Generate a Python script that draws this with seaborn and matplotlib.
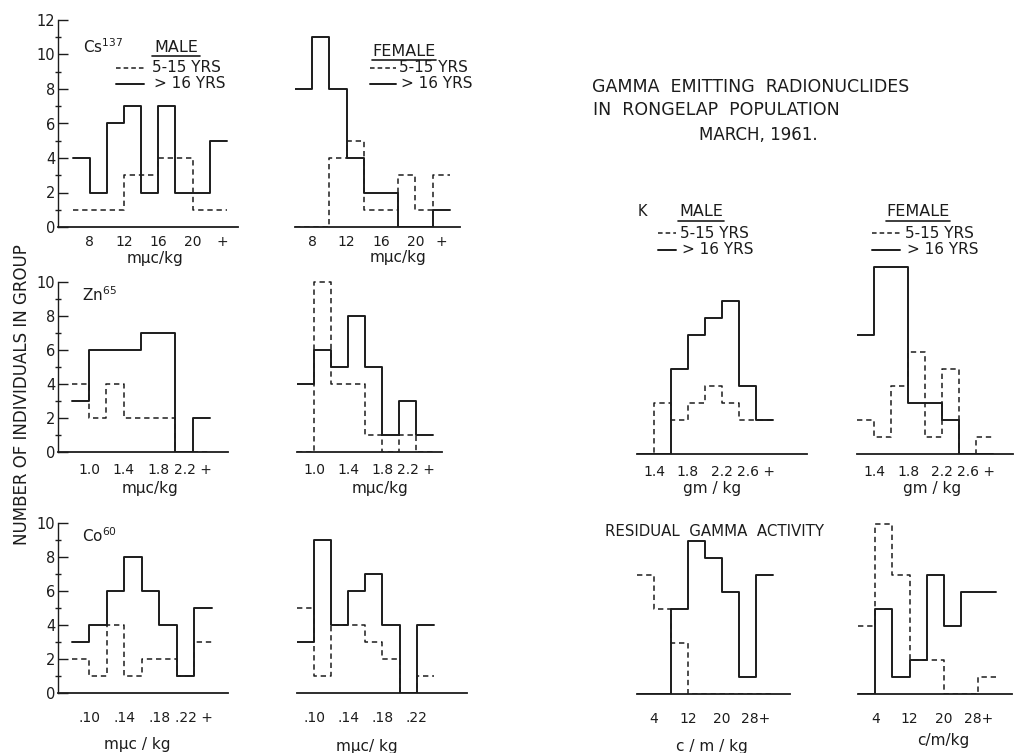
import numpy as np
import seaborn as sns
import matplotlib.pyplot as plt
from matplotlib.lines import Line2D

# bin edges for each measurement
CS_BINS = [6, 8, 10, 12, 14, 16, 18, 20, 22, 24]
ZN_BINS = [0.8, 1.0, 1.2, 1.4, 1.6, 1.8, 2.0, 2.2, 2.4]
CO_BINS = [0.08, 0.10, 0.12, 0.14, 0.16, 0.18, 0.20, 0.22, 0.24]
K_BINS = [1.2, 1.4, 1.6, 1.8, 2.0, 2.2, 2.4, 2.6, 2.8]
RG_BINS = [0, 4, 8, 12, 16, 20, 24, 28, 32]

# number of individuals: "old" = > 16 yrs (solid), "young" = 5-15 yrs (dashed)
cs_male_old = [4, 2, 6, 7, 2, 7, 2, 2, 5]
cs_male_young = [1, 1, 1, 3, 3, 4, 4, 1, 1]
cs_female_old = [8, 11, 8, 4, 2, 2, 0, 0, 1]
cs_female_young = [0, 0, 4, 5, 1, 1, 3, 1, 3]

zn_male_old = [3, 6, 6, 6, 7, 7, 0, 2]
zn_male_young = [4, 2, 4, 2, 2, 2, 0, 0]
zn_female_old = [4, 6, 5, 8, 5, 1, 3, 1]
zn_female_young = [0, 10, 4, 4, 1, 0, 1, 0]

co_male_old = [3, 4, 6, 8, 6, 4, 1, 5]
co_male_young = [2, 1, 4, 1, 2, 2, 1, 3]
co_female_old = [3, 9, 4, 6, 7, 4, 0, 4]
co_female_young = [5, 1, 4, 4, 3, 2, 0, 1]

k_male_old = [0, 0, 5, 7, 8, 9, 4, 2]
k_male_young = [0, 3, 2, 3, 4, 3, 2, 2]
k_female_old = [7, 11, 11, 3, 3, 2, 0, 0]
k_female_young = [2, 1, 4, 6, 1, 5, 0, 1]

rg_male_old = [0, 0, 5, 9, 8, 6, 1, 7]
rg_male_young = [7, 5, 3, 0, 0, 0, 0, 0]
rg_female_old = [0, 5, 1, 2, 7, 4, 6, 6]
rg_female_young = [4, 10, 7, 2, 2, 0, 0, 1]

# tick labels
CS_TICKS, CS_LABELS = [8, 12, 16, 20, 23.5], ['8', '12', '16', '20', '+']
CSF_TICKS, CSF_LABELS = [8, 12, 16, 20, 23], ['8', '12', '16', '20', '+']
ZN_TICKS, ZN_LABELS = [1.0, 1.4, 1.8, 2.2], ['1.0', '1.4', '1.8', '2.2 +']
CO_TICKS, CO_LABELS = [0.10, 0.14, 0.18, 0.22], ['.10', '.14', '.18', '.22 +']
COF_LABELS = ['.10', '.14', '.18', '.22']
K_TICKS, K_LABELS = [1.4, 1.8, 2.2, 2.6], ['1.4', '1.8', '2.2', '2.6 +']
RG_TICKS, RG_LABELS = [4, 12, 20, 28], ['4', '12', '20', '28+']

W, H = 1017, 753
INK = '#1c1c1c'

sns.set_style('white')
plt.rcParams['font.family'] = ['DejaVu Sans']
plt.rcParams['mathtext.default'] = 'regular'

fig = plt.figure(figsize=(W / 100, H / 100), dpi=100)


def panel(x0, x1, y0, unit, ytop):
    # axes placed in pixel coords, y0 = pixel row of the zero line
    return fig.add_axes([x0 / W, 1 - y0 / H, (x1 - x0) / W, unit * ytop / H])


def draw(ax, bins, old, young, ticks, labels, xlim, ytop, pad, yaxis=False, ymax=10):
    mids = [(a + b) / 2 for a, b in zip(bins[:-1], bins[1:])]
    sns.histplot(x=mids, weights=young, bins=list(bins), element='step', fill=False,
                 color=INK, linewidth=1.1, linestyle=(0, (3.5, 2.5)), ax=ax)
    sns.histplot(x=mids, weights=old, bins=list(bins), element='step', fill=False,
                 color=INK, linewidth=1.4, ax=ax)
    ax.set_xlim(*xlim)
    ax.set_ylim(0, ytop)
    ax.set_xlabel('')
    ax.set_ylabel('')
    ax.patch.set_alpha(0)
    ax.set_xticks(ticks, labels)
    ax.set_xticks(bins, minor=True)
    ax.tick_params(axis='x', which='major', length=0, pad=pad, labelsize=10,
                   labelcolor=INK)
    ax.tick_params(axis='x', which='minor', length=4, width=1, direction='inout',
                   color=INK)
    for s in ['top', 'right']:
        ax.spines[s].set_visible(False)
    ax.spines['bottom'].set_color(INK)
    ax.spines['bottom'].set_linewidth(1.3)
    if yaxis:
        ax.set_yticks(range(0, ymax + 1, 2))
        ax.set_yticks(range(1, ymax, 2), minor=True)
        ax.tick_params(axis='y', which='major', direction='in', length=7, width=1,
                       pad=2, labelsize=10.5, color=INK, labelcolor=INK, left=True)
        ax.tick_params(axis='y', which='minor', direction='inout', length=5,
                       width=1, color=INK, left=True)
        ax.spines['left'].set_bounds(0, ymax)
        ax.spines['left'].set_color(INK)
        ax.spines['left'].set_linewidth(1.0)
    else:
        ax.spines['left'].set_visible(False)
        ax.set_yticks([])


def ftext(x, y, s, **kw):
    kw.setdefault('color', INK)
    kw.setdefault('va', 'center')
    fig.text(x / W, 1 - y / H, s, **kw)


def fline(x0, x1, y, **kw):
    fig.add_artist(Line2D([x0 / W, x1 / W], [1 - y / H, 1 - y / H], color=INK, **kw))


U1, U2 = 17.25, 17.0

# row 1: Cs137
ax = panel(58, 238, 227, U1, 12.3)
draw(ax, CS_BINS, cs_male_old, cs_male_young, CS_TICKS, CS_LABELS, (4.3, 25.3), 12.3, 6,
     yaxis=True, ymax=12)
ax = panel(295, 460, 227, U1, 12.3)
draw(ax, CS_BINS, cs_female_old, cs_female_young, CSF_TICKS, CSF_LABELS, (6, 25.2), 12.3, 6)

# row 2: Zn65 and K
ax = panel(58, 228, 452, U2, 11.5)
draw(ax, ZN_BINS, zn_male_old, zn_male_young, ZN_TICKS, ZN_LABELS, (0.64, 2.61), 11.5, 8,
     yaxis=True)
ax = panel(297, 442, 452, U2, 11.5)
draw(ax, ZN_BINS, zn_female_old, zn_female_young, ZN_TICKS, ZN_LABELS, (0.8, 2.5), 11.5, 8)
ax = panel(637, 807, 454, U2, 11.5)
draw(ax, K_BINS, k_male_old, k_male_young, K_TICKS, K_LABELS, (1.2, 3.2), 11.5, 8)
ax = panel(857, 1013, 454, U2, 11.5)
draw(ax, K_BINS, k_female_old, k_female_young, K_TICKS, K_LABELS, (1.2, 3.03), 11.5, 8)

# row 3: Co60 and residual gamma
ax = panel(58, 228, 693, U2, 11.5)
draw(ax, CO_BINS, co_male_old, co_male_young, CO_TICKS, CO_LABELS, (0.064, 0.2585), 11.5, 13,
     yaxis=True)
ax = panel(297, 467, 693, U2, 11.5)
draw(ax, CO_BINS, co_female_old, co_female_young, CO_TICKS, COF_LABELS, (0.08, 0.279), 11.5, 13)
ax = panel(637, 790, 694, U2, 11.5)
draw(ax, RG_BINS, rg_male_old, rg_male_young, RG_TICKS, RG_LABELS, (0, 36), 11.5, 13)
ax = panel(858, 1012, 694, U2, 11.5)
draw(ax, RG_BINS, rg_female_old, rg_female_young, RG_TICKS, RG_LABELS, (0, 35.8), 11.5, 13)

# x axis units
for x, y, s in [(155, 259, 'mμc/kg'), (398, 258, 'mμc/kg'),
                (150, 488, 'mμc/kg'), (380, 488, 'mμc/kg'),
                (712, 489, 'gm / kg'), (932, 489, 'gm / kg'),
                (137, 745, 'mμc / kg'), (367, 747, 'mμc/ kg'),
                (712, 747, 'c / m / kg'), (943, 741, 'c/m/kg')]:
    ftext(x, y, s, ha='center', fontsize=11)

ftext(22, 395, 'NUMBER OF INDIVIDUALS IN GROUP', ha='center', rotation=90, fontsize=12)

# nuclide names
ftext(83, 47, 'Cs$^{137}$', fontsize=11)
ftext(82, 295, 'Zn$^{65}$', fontsize=11)
ftext(82, 536, 'Co$^{60}$', fontsize=11)
ftext(638, 212, 'K', fontsize=10.5)
ftext(605, 532, 'RESIDUAL  GAMMA  ACTIVITY', fontsize=10.8)

# title
ftext(592, 87, 'GAMMA  EMITTING  RADIONUCLIDES', fontsize=12.5)
ftext(593, 110, 'IN  RONGELAP  POPULATION', fontsize=12.5)
ftext(758, 135, 'MARCH, 1961.', ha='center', fontsize=12)


def legend(head, hx, hy, hw, lx0, lx1, tx, y1, y2):
    ftext(hx, hy, head, ha='center', fontsize=11.5)
    fline(hx - hw / 2, hx + hw / 2, hy + 9, linewidth=1.2)
    fline(lx0, lx1, y1, linewidth=1.1, linestyle=(0, (3, 2)))
    ftext(tx, y1, '5-15 YRS', fontsize=11)
    fline(lx0, lx1, y2, linewidth=1.4)
    ftext(tx + 2, y2, '> 16 YRS', fontsize=11)


legend('MALE', 176, 47, 48, 116, 144, 152, 68, 84)
legend('FEMALE', 404, 51, 64, 370, 396, 399, 68, 84)
legend('MALE', 701, 212, 46, 658, 676, 680, 233, 250)
legend('FEMALE', 918, 212, 64, 872, 900, 905, 233, 250)

fig.savefig('out.png', dpi=100)
